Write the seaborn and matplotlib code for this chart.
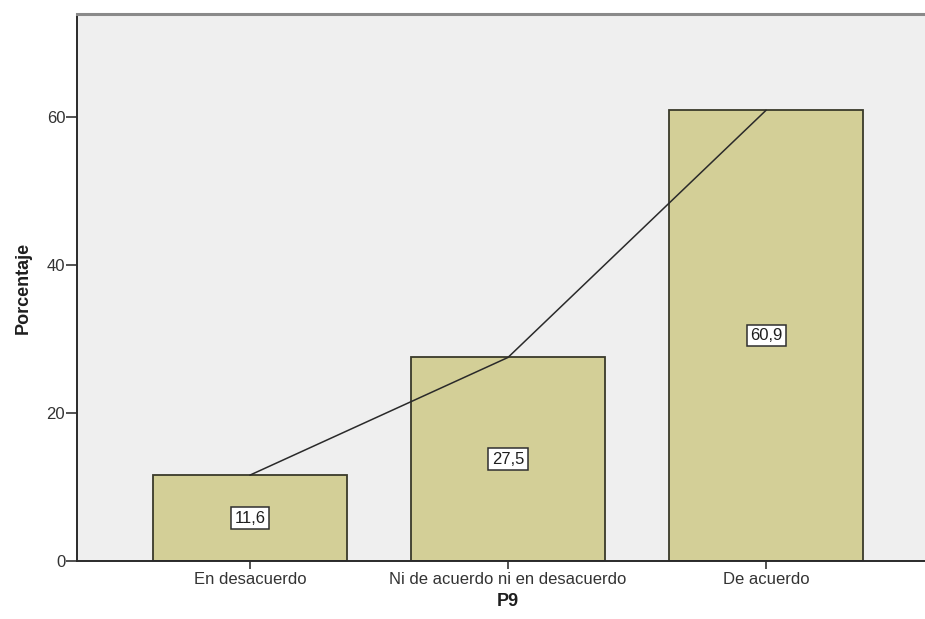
import matplotlib
matplotlib.use("Agg")
import matplotlib.pyplot as plt
import seaborn as sns
import pandas as pd

# data
categorias = ["En desacuerdo", "Ni de acuerdo ni en desacuerdo", "De acuerdo"]
porcentajes = [11.6, 27.5, 60.9]
etiquetas = ["11,6", "27,5", "60,9"]
y_ticks = [0, 20, 40, 60]

df = pd.DataFrame({"P9": categorias, "Porcentaje": porcentajes})

sns.set_style("white")
plt.rcParams["font.family"] = ["Liberation Sans", "DejaVu Sans"]

fig = plt.figure(figsize=(9.25, 6.19), dpi=100, facecolor="white")
# plot frame runs a little past the right edge, as in the SPSS export
ax = fig.add_axes([77 / 925, 58 / 619, 862 / 925, 547 / 619])
ax.set_facecolor("#EFEFEF")

sns.barplot(data=df, x="P9", y="Porcentaje", color="#D3CF97", saturation=1,
            width=0.75, edgecolor="#3A3A2A", linewidth=1.3, ax=ax)

# line joining the top of the bars
ax.plot(range(len(categorias)), porcentajes, color="#2A2A2A", linewidth=1.1)

for i, (v, t) in enumerate(zip(porcentajes, etiquetas)):
    ax.text(i, v / 2, t, ha="center", va="center", fontsize=12, color="#1E1E1E",
            bbox=dict(boxstyle="square,pad=0.2", fc="white", ec="#2F2F2F", lw=1.1))

ax.set_xlim(-0.67, 2.67)
ax.set_ylim(0, 73.9)
ax.set_yticks(y_ticks)

ax.set_xlabel("P9", fontsize=13, fontweight="bold", color="#1E1E1E", labelpad=4)
ax.set_ylabel("Porcentaje", fontsize=13, fontweight="bold", color="#1E1E1E", labelpad=11)

ax.tick_params(axis="y", direction="out", length=8, width=1.2, pad=0.5,
               labelsize=12, colors="#333333", left=True)
ax.tick_params(axis="x", direction="out", length=6, width=1.2, pad=2,
               labelsize=12, colors="#333333", bottom=True)

for side in ["left", "bottom"]:
    ax.spines[side].set_color("#2A2A2A")
    ax.spines[side].set_linewidth(1.4)
ax.spines["top"].set_color("#8A8A8A")
ax.spines["top"].set_linewidth(2.2)
ax.spines["right"].set_visible(False)

fig.savefig("out.png", dpi=100, facecolor="white")
